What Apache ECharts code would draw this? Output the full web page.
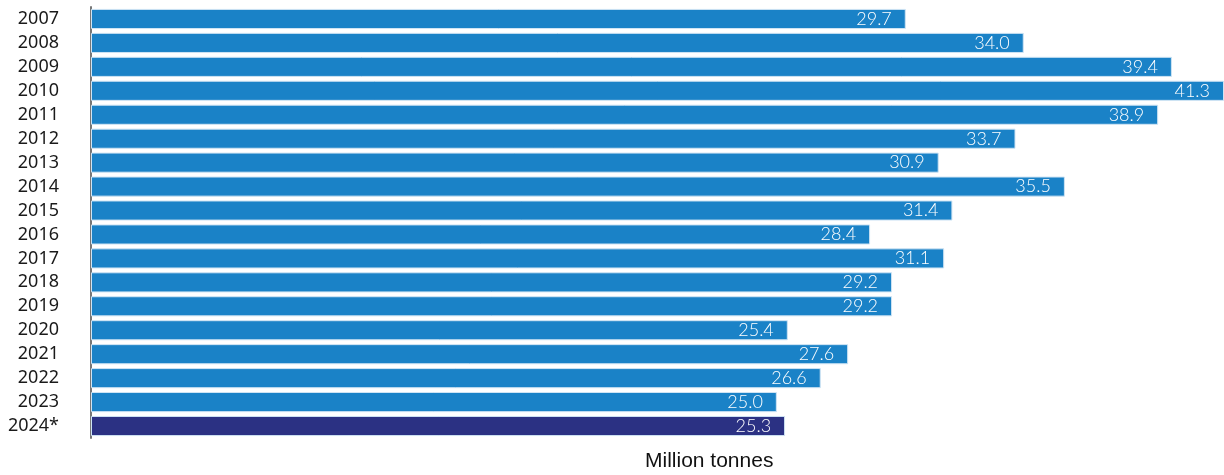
<!DOCTYPE html>
<html>
<head>
<meta charset="utf-8">
<script src="https://cdn.jsdelivr.net/npm/echarts@6/dist/echarts.min.js"></script>
<style>
  html, body { margin: 0; padding: 0; background: #fff; }
  #chart { width: 1224px; height: 475px; }
</style>
</head>
<body>
<div id="chart"></div>
<script>
var years = ['2007', '2008', '2009', '2010', '2011', '2012', '2013', '2014', '2015',
  '2016', '2017', '2018', '2019', '2020', '2021', '2022', '2023', '2024*'];
var tonnes = [29.7, 34.0, 39.4, 41.3, 38.9, 33.7, 30.9, 35.5, 31.4,
  28.4, 31.1, 29.2, 29.2, 25.4, 27.6, 26.6, 25.0, 25.3];

var chart = echarts.init(document.getElementById('chart'));

var barData = tonnes.map(function (v, i) {
  var last = i === tonnes.length - 1;
  return {
    value: v,
    itemStyle: { color: last ? '#2b3183' : '#1a82c7' }
  };
});

chart.setOption({
  animation: false,
  grid: { left: 91, right: -1, top: 7, bottom: 37 },
  xAxis: {
    type: 'value',
    min: 0,
    max: 41.3,
    axisLine: { show: false },
    axisTick: { show: false },
    axisLabel: { show: false },
    splitLine: { show: false }
  },
  yAxis: {
    type: 'category',
    inverse: true,
    data: years,
    axisLine: { show: true, lineStyle: { color: '#777', width: 2 } },
    axisTick: { show: false },
    axisLabel: {
      color: '#1a1a1a',
      fontFamily: 'Noto Sans',
      fontSize: 18,
      margin: 32,
      padding: [6, 0, 0, 0]
    }
  },
  graphic: [{
    type: 'text',
    left: 645,
    top: 451,
    style: {
      text: 'Million tonnes',
      fill: '#111',
      font: '21px "Liberation Sans", Arial, sans-serif'
    }
  }],
  series: [{
    type: 'bar',
    data: barData,
    barCategoryGap: '16%',
    itemStyle: { borderColor: '#cfe4f4', borderWidth: 1 },
    label: {
      show: true,
      position: 'insideRight',
      distance: 14,
      color: '#fff',
      fontFamily: 'Lato',
      fontWeight: 300,
      fontSize: 18,
      formatter: function (p) { return p.value.toFixed(1); }
    }
  }]
});
</script>
</body>
</html>
